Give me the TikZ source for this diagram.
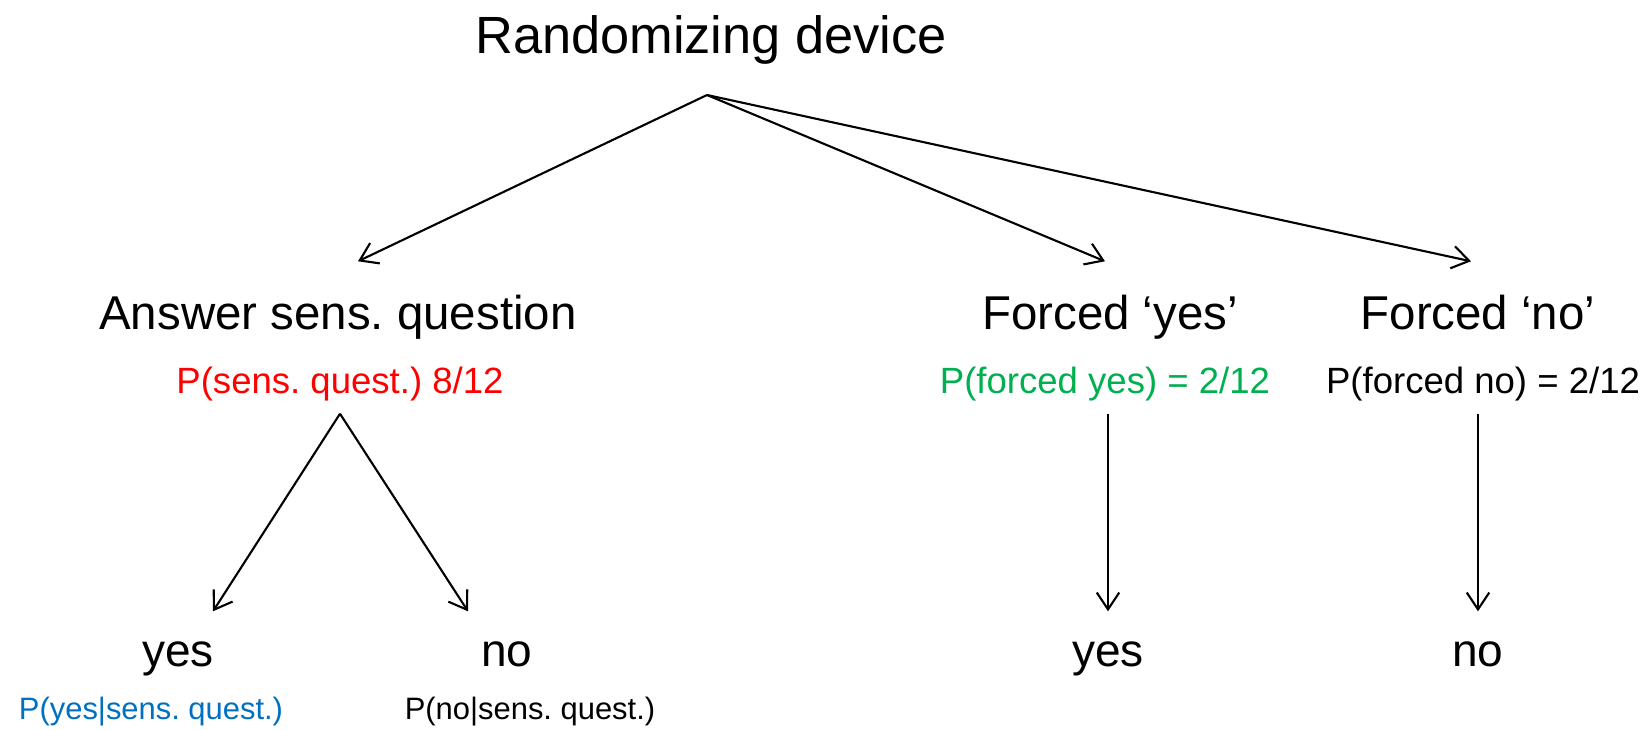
\documentclass[tikz,border=0pt]{standalone}
\usepackage{fontspec}
\setmainfont{Liberation Sans}
\usetikzlibrary{arrows.meta,calc}
\frenchspacing
\definecolor{probred}{RGB}{255,0,0}
\definecolor{probgreen}{RGB}{0,176,80}
\definecolor{probblue}{RGB}{0,112,192}
\tikzset{
  rdtitle/.style ={anchor=base, inner sep=0pt, font=\fontsize{14.9}{17}\selectfont},
  rdchoice/.style={anchor=base, inner sep=0pt, text height=6.7mm,
                   font=\fontsize{13.5}{16}\selectfont},
  rdprob/.style  ={anchor=base, inner sep=0pt, text depth=2mm,
                   font=\fontsize{10.4}{12}\selectfont},
  rdanswer/.style={anchor=base, inner sep=0pt, text height=5.4mm,
                   font=\fontsize{13.1}{15}\selectfont},
  rdcond/.style  ={anchor=base, inner sep=0pt, font=\fontsize{8.8}{10}\selectfont},
  rdarrow/.style ={-{Straight Barb[length=4.8pt,width=6.4pt]}, line width=0.6pt, black},
}

\begin{document}
\begin{tikzpicture}
  \useasboundingbox (0,0) rectangle (16.5,-7.3);
  \node[rdtitle] (dev) at (7.11,-0.53) {Randomizing device};
  \coordinate (apex) at (7.07,-0.95);
  % outcomes of the device
  \node[rdchoice] (ans)  at (3.38,-3.29)  {Answer sens. question};
  \node[rdchoice] (fyes) at (11.10,-3.29) {Forced ‘yes’};
  \node[rdchoice] (fno)  at (14.78,-3.29) {Forced ‘no’};
  \node[rdprob, text=probred]   (psens) at (3.40,-3.93)  {P(sens. quest.) 8/12};
  \node[rdprob, text=probgreen] (pfyes) at (11.05,-3.93) {P(forced yes) = 2/12};
  \node[rdprob]                 (pfno)  at (14.83,-3.93) {P(forced no) = 2/12};
  \foreach \n/\dx in {ans/2mm, fyes/-0.5mm, fno/-0.7mm}
    \draw[rdarrow] (apex) -- ([xshift=\dx]\n.north);
  % answers given
  \node[rdanswer] (yesA) at (1.78,-6.66)  {yes};
  \node[rdanswer] (noA)  at (5.07,-6.66)  {no};
  \node[rdanswer] (yesB) at (11.08,-6.66) {yes};
  \node[rdanswer] (noB)  at (14.78,-6.66) {no};
  \node[rdcond, text=probblue] (cyes) at (1.51,-7.19) {P(yes|sens. quest.)};
  \node[rdcond]                (cno)  at (5.30,-7.19) {P(no|sens. quest.)};
  \draw[rdarrow] (psens.south) -- ([xshift=3.5mm]yesA.north);
  \draw[rdarrow] (psens.south) -- ([xshift=-3.9mm]noA.north);
  \draw[rdarrow] (pfyes.south -| yesB.north) -- (yesB.north);
  \draw[rdarrow] (pfno.south -| noB.north) -- (noB.north);
\end{tikzpicture}
\end{document}
